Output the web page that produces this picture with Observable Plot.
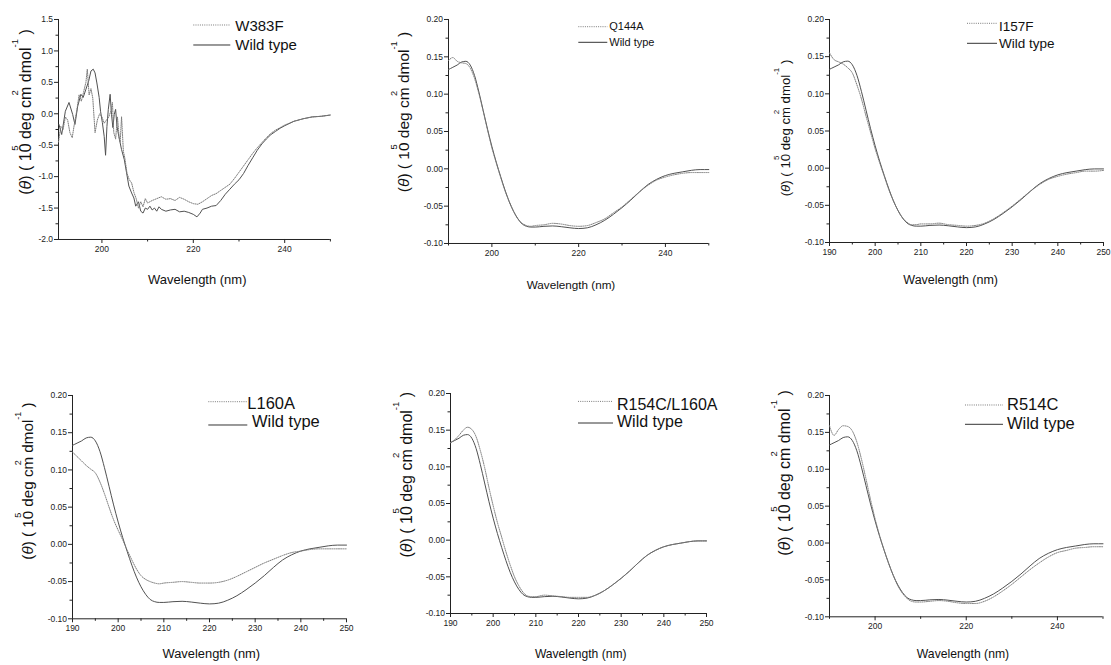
<!DOCTYPE html>
<html><head><meta charset="utf-8">
<script src="https://cdn.jsdelivr.net/npm/d3@7"></script>
<script src="https://cdn.jsdelivr.net/npm/@observablehq/plot@0.6"></script>
<style>
body{margin:0;background:#fff;}
#root{position:relative;width:1111px;height:665px;overflow:hidden;background:#fff;}
</style></head><body><div id="root"></div>
<script>
// ---------- DATA ----------
// smooth spectra (panels 2-6): wavelength grid in nm
const wlSmooth = [190,191,192,193,194,195,196,197,198,199,200,201,202,203,204,205,206,207,208,209,210,212,214,216,218,220,222,224,226,228,230,232,234,236,238,240,242,244,246,248,250];
const wildType = [0.133,0.136,0.139,0.143,0.144,0.139,0.125,0.103,0.078,0.053,0.030,0.009,-0.010,-0.028,-0.044,-0.057,-0.067,-0.074,-0.077,-0.078,-0.078,-0.077,-0.0765,-0.0775,-0.079,-0.080,-0.079,-0.075,-0.069,-0.061,-0.052,-0.042,-0.031,-0.021,-0.014,-0.009,-0.006,-0.004,-0.002,-0.001,-0.001];
const q144a = [0.145,0.149,0.144,0.142,0.141,0.135,0.121,0.101,0.077,0.052,0.028,0.008,-0.011,-0.029,-0.044,-0.057,-0.067,-0.073,-0.076,-0.077,-0.076,-0.075,-0.073,-0.074,-0.076,-0.077,-0.076,-0.072,-0.067,-0.059,-0.051,-0.041,-0.031,-0.022,-0.015,-0.011,-0.008,-0.006,-0.005,-0.005,-0.005];
const i157f = [0.155,0.146,0.143,0.140,0.135,0.128,0.112,0.093,0.070,0.048,0.026,0.007,-0.011,-0.029,-0.044,-0.057,-0.067,-0.073,-0.076,-0.076,-0.075,-0.075,-0.074,-0.076,-0.077,-0.078,-0.077,-0.074,-0.068,-0.060,-0.051,-0.041,-0.031,-0.022,-0.015,-0.011,-0.008,-0.006,-0.004,-0.004,-0.003];
const l160a = [0.124,0.118,0.112,0.106,0.101,0.096,0.084,0.068,0.050,0.033,0.019,0.006,-0.008,-0.021,-0.033,-0.042,-0.047,-0.050,-0.052,-0.053,-0.052,-0.051,-0.050,-0.051,-0.052,-0.052,-0.051,-0.048,-0.043,-0.037,-0.031,-0.025,-0.020,-0.015,-0.011,-0.009,-0.007,-0.006,-0.006,-0.006,-0.006];
const r154cL160a = [0.133,0.137,0.143,0.150,0.154,0.151,0.141,0.122,0.099,0.072,0.047,0.024,0.004,-0.016,-0.034,-0.050,-0.062,-0.071,-0.076,-0.077,-0.077,-0.075,-0.076,-0.077,-0.078,-0.078,-0.078,-0.075,-0.069,-0.061,-0.052,-0.042,-0.031,-0.021,-0.014,-0.009,-0.006,-0.004,-0.002,-0.001,-0.001];
const r514c = [0.159,0.146,0.154,0.159,0.158,0.152,0.137,0.114,0.087,0.059,0.033,0.010,-0.010,-0.028,-0.044,-0.058,-0.068,-0.075,-0.079,-0.080,-0.080,-0.079,-0.078,-0.079,-0.081,-0.082,-0.082,-0.079,-0.073,-0.065,-0.056,-0.046,-0.036,-0.027,-0.019,-0.013,-0.010,-0.007,-0.006,-0.005,-0.005];

// noisy spectra (panel 1)
const wlW383F = [190.5,191.0,191.5,192.0,192.5,193.0,193.5,194.0,194.5,195.0,195.5,196.0,196.5,196.8,197.2,197.6,198.0,198.5,199.0,199.5,200.0,200.5,201.0,201.5,202.0,202.3,202.6,203.0,203.4,203.8,204.0,204.3,204.7,205.0,205.5,206.0,206.5,207.0,207.5,208.0,208.5,209.0,209.5,210.0,211,212,213,214,215,216,217,218,219,220,221,222,223,224,225,226,227,228,229,230,231,232,233,234,235,236,237,238,239,240,242,244,246,248,250];
const w383f = [-0.45,-0.20,-0.25,-0.05,-0.10,-0.30,-0.38,-0.15,0.05,0.30,0.20,0.35,0.50,0.71,0.30,0.40,0.25,-0.30,-0.10,0.00,-0.05,-0.15,-0.10,-0.05,0.05,0.18,-0.30,-0.40,-0.05,-0.40,-0.45,-0.05,-0.60,-0.70,-0.95,-1.05,-1.10,-1.25,-1.35,-1.50,-1.40,-1.48,-1.35,-1.42,-1.38,-1.35,-1.32,-1.36,-1.35,-1.38,-1.33,-1.36,-1.40,-1.43,-1.44,-1.40,-1.35,-1.30,-1.27,-1.22,-1.17,-1.12,-1.03,-0.93,-0.83,-0.73,-0.63,-0.54,-0.46,-0.38,-0.31,-0.26,-0.22,-0.18,-0.12,-0.08,-0.05,-0.04,-0.02];
const wlWildType1 = [190.6,191.2,192.0,192.8,193.6,194.1,194.7,195.4,195.9,196.5,197.1,197.6,198.1,198.5,198.9,199.4,199.7,200.1,200.5,200.8,201.1,201.4,201.8,202.1,202.4,202.7,203.0,203.3,203.7,204.3,204.9,205.4,205.9,206.5,207.0,207.4,208,208.5,209,209.5,210,210.5,211,211.5,212,212.5,213,214,215,216,217,218,219,220,220.8,221.5,222,223,224,225,226,227,228,229,230,231,232,233,234,235,236,237,238,239,240,242,244,246,248,250];
const wildType1 = [-0.17,-0.33,0.04,0.18,-0.01,-0.17,0.12,0.31,0.26,0.39,0.52,0.68,0.71,0.65,0.49,0.26,0.04,-0.14,-0.36,-0.66,-0.20,0.07,0.31,-0.01,-0.22,-0.01,0.07,-0.20,-0.36,-0.57,-0.73,-0.94,-1.15,-1.26,-1.34,-1.47,-1.40,-1.55,-1.58,-1.50,-1.52,-1.47,-1.53,-1.50,-1.55,-1.48,-1.52,-1.55,-1.53,-1.52,-1.56,-1.55,-1.57,-1.60,-1.64,-1.58,-1.52,-1.50,-1.47,-1.46,-1.38,-1.28,-1.20,-1.12,-1.05,-0.95,-0.82,-0.70,-0.58,-0.48,-0.40,-0.33,-0.28,-0.23,-0.19,-0.12,-0.08,-0.05,-0.04,-0.02];

// tick values
const xTicksSparse = [200, 220, 240];
const xMinorSparse = [190, 210, 230, 250];
const xMinorSparse1 = [210, 230, 250];
const xTicksFull = [190, 200, 210, 220, 230, 240, 250];
const xMinorFull = [195, 205, 215, 225, 235, 245];
const yTicksBig = [-2.0, -1.5, -1.0, -0.5, 0.0, 0.5, 1.0, 1.5];
const yMinorBig = [-1.75, -1.25, -0.75, -0.25, 0.25, 0.75, 1.25];
const yTicksSmall = [-0.10, -0.05, 0.00, 0.05, 0.10, 0.15, 0.20];
const yMinorSmall = [-0.075, -0.025, 0.025, 0.075, 0.125, 0.175];

const xLabel = "Wavelength (nm)";
const wildLabel = "Wild type";

// ---------- LAYOUT ----------
const FONT = "'Liberation Sans', Arial, Helvetica, sans-serif";
const panels = [
  {mutant:"W383F", mx:wlW383F, my:w383f, wx:wlWildType1, wy:wildType1, xDomain:[190.5,250], yDomain:[-2,1.5],
   xMajor:xTicksSparse, xMinor:xMinorSparse1, yMajor:yTicksBig, yMinor:yMinorBig, digits:1, curve:"linear",
   box:[57.7,329.6,19,239], leg:{x0:193,x1:230,ly1:25,ly2:45,tx1:235,tx2:235,ty1:30.7,ty2:50.5,size:15},
   xl:{x:197,y:284,size:13}, yl:{x:31,y:112,size:16}},
  {mutant:"Q144A", mx:wlSmooth, my:q144a, wx:wlSmooth, wy:wildType, xDomain:[190,250], yDomain:[-0.1,0.2],
   xMajor:xTicksSparse, xMinor:xMinorSparse, yMajor:yTicksSmall, yMinor:yMinorSmall, digits:2, curve:"monotone-x",
   box:[447.7,708,19,243], leg:{x0:578,x1:607,ly1:26.7,ly2:42.3,tx1:609,tx2:609,ty1:30.5,ty2:46,size:11},
   xl:{x:570.7,y:289,size:11.7}, yl:{x:409,y:112,size:15.5}},
  {mutant:"I157F", mx:wlSmooth, my:i157f, wx:wlSmooth, wy:wildType, xDomain:[190,250], yDomain:[-0.1,0.2],
   xMajor:xTicksFull, xMinor:xMinorFull, yMajor:yTicksSmall, yMinor:yMinorSmall, digits:2, curve:"monotone-x",
   box:[829,1103,19,242], leg:{x0:967,x1:997,ly1:23.3,ly2:43.3,tx1:999,tx2:999,ty1:30.7,ty2:47.7,size:13.5},
   xl:{x:950.7,y:284,size:12.5}, yl:{x:790,y:128,size:13.2}},
  {mutant:"L160A", mx:wlSmooth, my:l160a, wx:wlSmooth, wy:wildType, xDomain:[190,250], yDomain:[-0.1,0.2],
   xMajor:xTicksFull, xMinor:xMinorFull, yMajor:yTicksSmall, yMinor:yMinorSmall, digits:2, curve:"monotone-x",
   box:[71.7,345.7,395,618.3], leg:{x0:208,x1:247,ly1:401.7,ly2:425,tx1:247,tx2:251.7,ty1:409.3,ty2:427.5,size:16.5},
   xl:{x:211,y:658,size:12.9}, yl:{x:33,y:481,size:15.2}},
  {mutant:"R154C/L160A", mx:wlSmooth, my:r154cL160a, wx:wlSmooth, wy:wildType, xDomain:[190,250], yDomain:[-0.1,0.2],
   xMajor:xTicksFull, xMinor:xMinorFull, yMajor:yTicksSmall, yMinor:yMinorSmall, digits:2, curve:"monotone-x",
   box:[450,706,393.3,613.3], leg:{x0:578,x1:613,ly1:401.7,ly2:423.3,tx1:617,tx2:617,ty1:410,ty2:427.7,size:16},
   xl:{x:580.7,y:658,size:12.1}, yl:{x:412,y:475,size:16}},
  {mutant:"R514C", mx:wlSmooth, my:r514c, wx:wlSmooth, wy:wildType, xDomain:[190,250], yDomain:[-0.1,0.2],
   xMajor:xTicksSparse, xMinor:xMinorSparse, yMajor:yTicksSmall, yMinor:yMinorSmall, digits:2, curve:"monotone-x",
   box:[829,1102.5,395,616.3], leg:{x0:965,x1:1003,ly1:405,ly2:424.3,tx1:1007,tx2:1007,ty1:410,ty2:429,size:16.5},
   xl:{x:963,y:658,size:12.2}, yl:{x:790,y:473,size:16}}
];

const root = document.getElementById("root");
const ml = 58, mr = 14, mt = 14, mb = 58;

for (const p of panels) {
  const fw = p.box[1] - p.box[0], fh = p.box[3] - p.box[2];
  const width = fw + ml + mr, height = fh + mt + mb;
  const left = p.box[0] - ml, top = p.box[2] - mt;
  const mut = p.mx.map((x, i) => ({wl: x, v: p.my[i]}));
  const wt = p.wx.map((x, i) => ({wl: x, v: p.wy[i]}));
  const svg = Plot.plot({
    width, height, marginLeft: ml, marginRight: mr, marginTop: mt, marginBottom: mb,
    x: {domain: p.xDomain, label: null},
    y: {domain: p.yDomain, label: null},
    style: {fontFamily: FONT, background: "transparent", overflow: "visible", color: "#222"},
    marks: [
      Plot.axisX(p.xMinor, {tickSize: 2.5, tickFormat: () => "", label: null, stroke: "#222"}),
      Plot.axisX(p.xMajor, {tickSize: 4, tickPadding: 2.5, fontSize: 8.5, tickFormat: d => String(d), label: null, stroke: "#222"}),
      Plot.axisY(p.yMinor, {tickSize: 2.5, tickFormat: () => "", label: null, stroke: "#222"}),
      Plot.axisY(p.yMajor, {tickSize: 4, tickPadding: 1.5, fontSize: 8.5, tickFormat: d => d.toFixed(p.digits), label: null, stroke: "#222"}),
      Plot.ruleX([p.xDomain[0]], {stroke: "#222", strokeWidth: 1}),
      Plot.ruleY([p.yDomain[0]], {stroke: "#222", strokeWidth: 1}),
      Plot.line(wt, {x: "wl", y: "v", stroke: "#505050", strokeWidth: 1, curve: p.curve}),
      Plot.line(mut, {x: "wl", y: "v", stroke: "#7a7a7a", strokeWidth: 1, strokeDasharray: "1,1.2", curve: p.curve})
    ]
  });
  svg.style.position = "absolute";
  svg.style.left = left + "px";
  svg.style.top = top + "px";
  root.appendChild(svg);

  const g = d3.select(svg).append("g").attr("font-family", FONT).attr("fill", "#111");
  // x label
  g.append("text").attr("x", p.xl.x - left).attr("y", p.xl.y - top)
    .attr("text-anchor", "middle").attr("font-size", p.xl.size).text(xLabel);
  // y label with superscripts
  const s = p.yl.size, ss = s * 0.6;
  const t = g.append("text").attr("text-anchor", "middle").attr("font-size", s)
    .attr("transform", `translate(${p.yl.x - left},${p.yl.y - top}) rotate(-90)`);
  t.append("tspan").text("(");
  t.append("tspan").attr("font-style", "italic").text("θ");
  t.append("tspan").text(") ( 10");
  t.append("tspan").attr("font-size", ss).attr("dx", -0.45 * s).attr("dy", -0.82 * s).text("5");
  t.append("tspan").attr("dx", 0.45 * s - 0.556 * ss).attr("dy", 0.82 * s).text(" deg cm");
  t.append("tspan").attr("font-size", ss).attr("dx", -0.55 * s).attr("dy", -0.82 * s).text("2");
  t.append("tspan").attr("dx", 0.55 * s - 0.556 * ss).attr("dy", 0.82 * s).text(" dmol");
  t.append("tspan").attr("font-size", ss).attr("dy", -0.82 * s).text("-1");
  t.append("tspan").attr("dy", 0.82 * s).text(" )");
  // legend
  const L = p.leg;
  g.append("line").attr("x1", L.x0 - left).attr("x2", L.x1 - left).attr("y1", L.ly1 - top).attr("y2", L.ly1 - top)
    .attr("stroke", "#7a7a7a").attr("stroke-dasharray", "1,1.2");
  g.append("line").attr("x1", L.x0 - left).attr("x2", L.x1 - left).attr("y1", L.ly2 - top).attr("y2", L.ly2 - top)
    .attr("stroke", "#333");
  g.append("text").attr("text-anchor", "start").attr("x", L.tx1 - left).attr("y", L.ty1 - top).attr("font-size", L.size).text(p.mutant);
  g.append("text").attr("text-anchor", "start").attr("x", L.tx2 - left).attr("y", L.ty2 - top).attr("font-size", L.size).text(wildLabel);
}
</script></body></html>
